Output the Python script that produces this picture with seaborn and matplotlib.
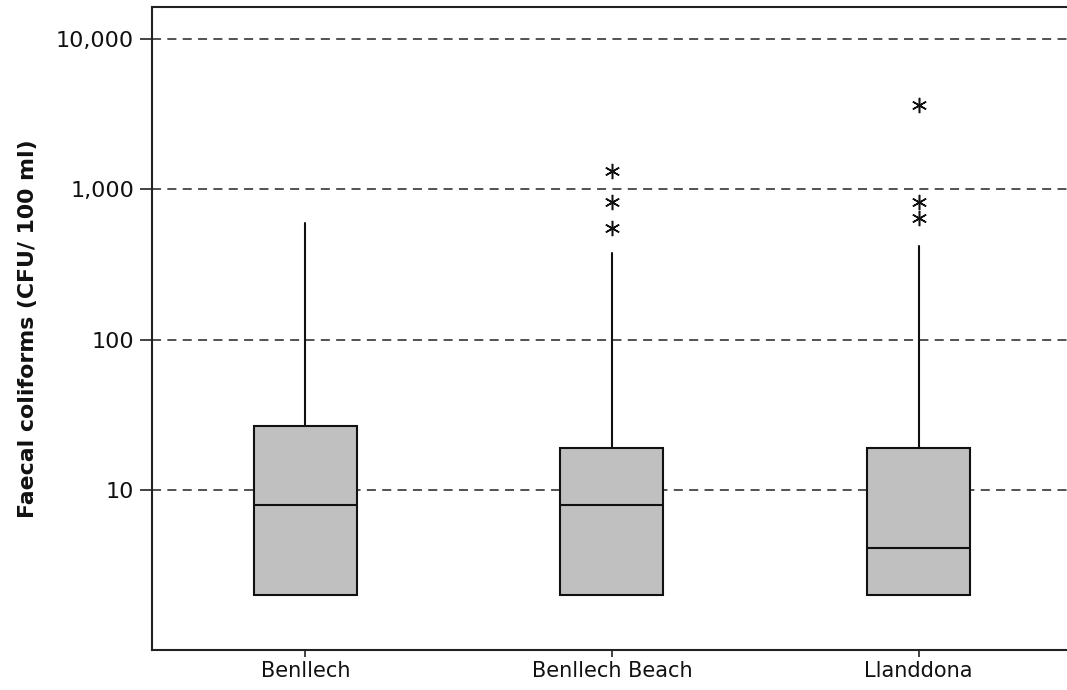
import numpy as np
import matplotlib
matplotlib.use("Agg")
import matplotlib.pyplot as plt
import seaborn as sns

sites = ["Benllech", "Benllech Beach", "Llanddona"]
q1 = [2, 2, 2]
medians = [8, 8, 4.1]
q3 = [26.6, 19, 19]
whisker_low = [2, 2, 2]
whisker_high = [594, 376, 418]
outliers = [[], [1317, 820, 550], [3640, 820, 641]]
ytick_vals = [10, 100, 1000, 10000]
ytick_labels = ["10", "100", "1,000", "10,000"]

sns.set_style("white")
plt.rcParams["font.family"] = ["DejaVu Sans"]

fig = plt.figure(figsize=(10.67, 6.9), dpi=100)
ax = fig.add_axes([0.1425, 0.058, 0.862, 0.932])

stats = []
for i, s in enumerate(sites):
    stats.append(dict(label=s, med=medians[i], q1=q1[i], q3=q3[i],
                      whislo=whisker_low[i], whishi=whisker_high[i],
                      fliers=outliers[i]))

ax.set_yscale("log")
ax.bxp(stats, positions=range(len(sites)), widths=0.336, patch_artist=True,
       showcaps=False,
       boxprops=dict(facecolor="#c0c0c0", edgecolor="#111111", linewidth=1.5),
       medianprops=dict(color="#111111", linewidth=1.5),
       whiskerprops=dict(color="#111111", linewidth=1.5),
       flierprops=dict(marker=(6, 2, 0), markersize=11, markeredgecolor="#111111",
                       markeredgewidth=1.1, linestyle="none"))

for v in ytick_vals:
    ax.axhline(v, color="#444444", linestyle=(0, (5, 3.5)), linewidth=1.3, zorder=0)

ax.set_xlim(-0.5, 2.5)
ax.set_ylim(0.862, 16330)
ax.set_yticks(ytick_vals)
ax.set_yticklabels(ytick_labels)
ax.yaxis.set_minor_locator(matplotlib.ticker.NullLocator())
ax.set_xticks(range(len(sites)))
ax.set_xticklabels(sites)
ax.tick_params(axis="y", direction="out", length=9, width=1.2, color="#222222",
               labelsize=16, pad=4, left=True, labelcolor="#111111")
ax.tick_params(axis="x", direction="out", length=5, width=1.2, color="#222222",
               labelsize=15, pad=3, bottom=True, labelcolor="#111111")
for sp in ax.spines.values():
    sp.set_color("#222222")
    sp.set_linewidth(1.5)

ax.set_ylabel("Faecal coliforms (CFU/ 100 ml)", fontsize=15.8, fontweight="bold",
              labelpad=13, color="#111111")

fig.savefig("out.png", dpi=100)
